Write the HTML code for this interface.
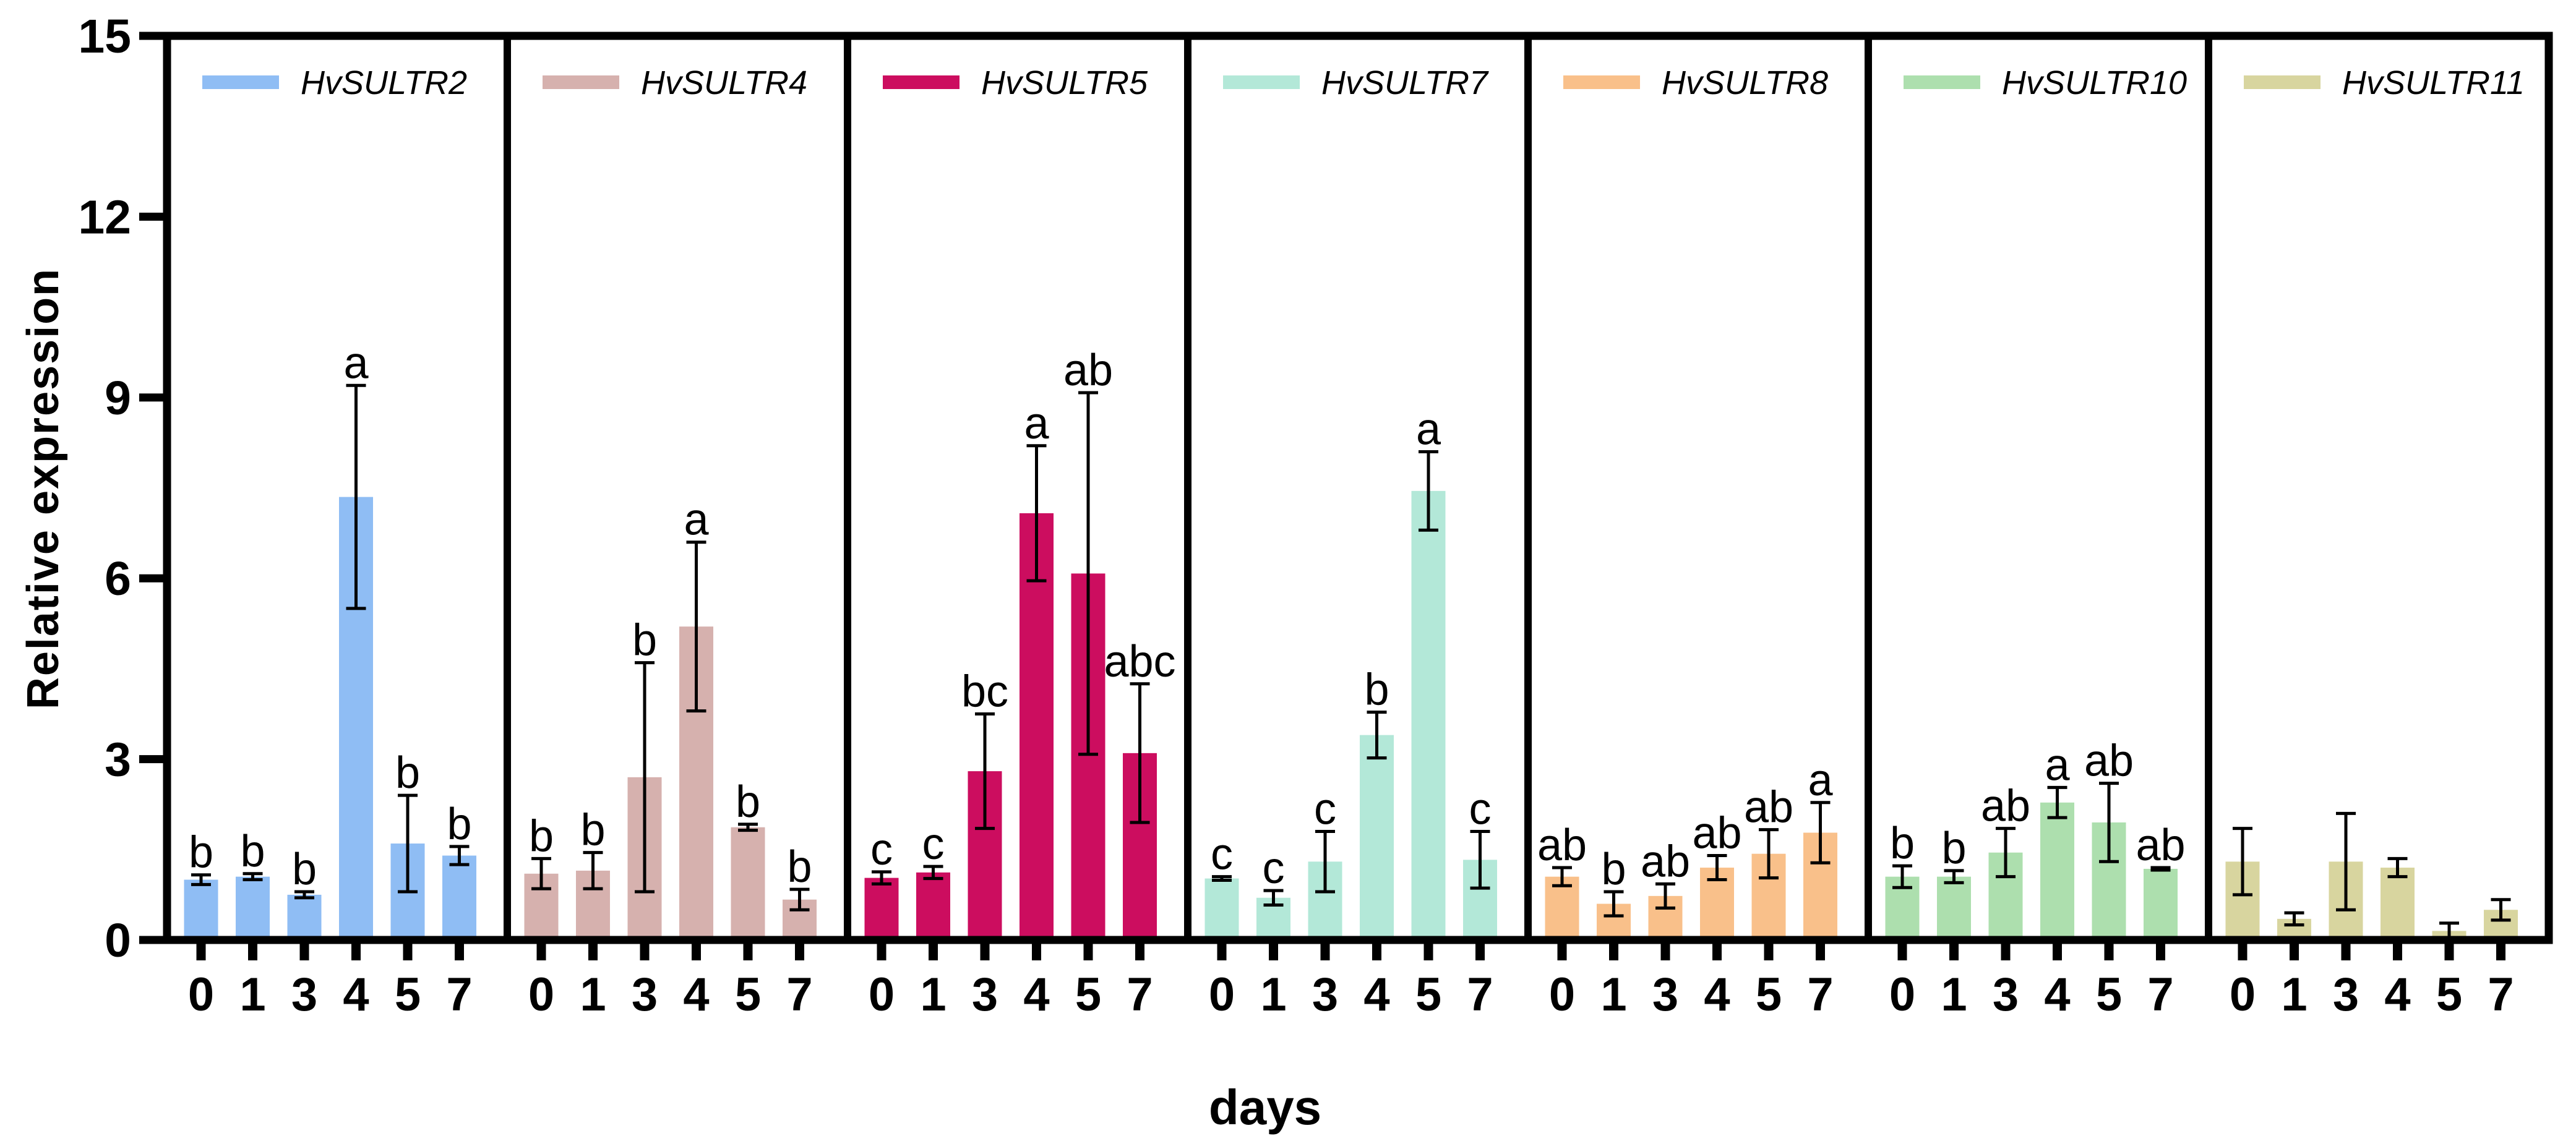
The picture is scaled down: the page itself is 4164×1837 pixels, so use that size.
<!DOCTYPE html>
<html><head><meta charset="utf-8"><style>
html,body{margin:0;padding:0;background:#fff}
svg{display:block}
text{font-family:"Liberation Sans",Arial,sans-serif}
</style></head><body>
<svg id="chart" width="4164" height="1837" viewBox="0 0 4164 1837" xmlns="http://www.w3.org/2000/svg">
<g id="marks"></g>
<g id="axes"></g>
<text x="0" y="0" transform="translate(94,790) rotate(-90)" text-anchor="middle" font-size="72" font-weight="bold" letter-spacing="2">Relative  expression</text>
<text x="2045" y="1818" text-anchor="middle" font-size="80" font-weight="bold">days</text>
</svg>
<script>
const genes = ["HvSULTR2","HvSULTR4","HvSULTR5","HvSULTR7","HvSULTR8","HvSULTR10","HvSULTR11"];
const colors = ["#8fbdf4","#d6b1ae","#cc0d5f","#b3e8d8","#f9c08a","#addfae","#d8d59f"];
const days = ["0","1","3","4","5","7"];
const v2 = [1.0,1.05,0.75,7.35,1.6,1.4];
const e2 = [0.08,0.05,0.05,1.85,0.8,0.15];
const l2 = ["b","b","b","a","b","b"];
const v4 = [1.1,1.15,2.7,5.2,1.87,0.67];
const e4 = [0.25,0.3,1.9,1.4,0.05,0.17];
const l4 = ["b","b","b","a","b","b"];
const v5 = [1.03,1.12,2.8,7.08,6.08,3.1];
const e5 = [0.1,0.1,0.95,1.12,3.0,1.15];
const l5 = ["c","c","bc","a","ab","abc"];
const v7 = [1.02,0.7,1.3,3.4,7.45,1.33];
const e7 = [0.03,0.12,0.5,0.38,0.65,0.47];
const l7 = ["c","c","c","b","a","c"];
const v8 = [1.05,0.6,0.73,1.2,1.43,1.78];
const e8 = [0.15,0.2,0.2,0.2,0.4,0.5];
const l8 = ["ab","b","ab","ab","ab","a"];
const v10 = [1.05,1.05,1.45,2.28,1.95,1.18];
const e10 = [0.18,0.1,0.4,0.25,0.65,0.02];
const l10 = ["b","b","ab","a","ab","ab"];
const v11 = [1.3,0.35,1.3,1.2,0.15,0.5];
const e11 = [0.55,0.1,0.8,0.15,0.13,0.17];
const l11 = ["","","","","",""];
const yTicks = [0,3,6,9,12,15];

const values=[v2,v4,v5,v7,v8,v10,v11], errs=[e2,e4,e5,e7,e8,e10,e11], letters=[l2,l4,l5,l7,l8,l10,l11];
const NS="http://www.w3.org/2000/svg";
const X0=270, PW=550, Y0=1520, YTOP=58, YMAX=15;
const y = v => Y0 - v/YMAX*(Y0-YTOP);
const x = (p,i) => X0 + p*PW + 55 + i*83.5;
const marks=document.getElementById('marks'), axes=document.getElementById('axes');
function mk(tag,attrs,parent){const e=document.createElementNS(NS,tag);for(const k in attrs)e.setAttribute(k,attrs[k]);parent.appendChild(e);return e;}

genes.forEach((g,p)=>{
  const grp=mk('g',{},marks);
  
  
  const ll=mk('rect',{x:X0+p*PW+57,y:122,width:124,height:22,fill:colors[p]},grp);
  
  
  const lt=mk('text',{x:X0+p*PW+216,y:152,'font-size':54,'font-style':'italic'},grp);
  lt.textContent=g;
  
  
  values[p].forEach((v,i)=>{
    const cx=x(p,i);
    const r=mk('rect',{x:cx-27.5,y:y(v),width:55,height:Y0-y(v),fill:colors[p]},grp);
    
    
    const top=y(v+errs[p][i]), bot=y(Math.max(0,v-errs[p][i]));
    const eb=mk('path',{d:`M${cx},${top}V${bot}M${cx-16},${top}H${cx+16}M${cx-16},${bot}H${cx+16}`,stroke:'#000','stroke-width':5,fill:'none'},grp);
    
    
    if(letters[p][i]){
      const t=mk('text',{x:cx,y:top-12,'text-anchor':'middle','font-size':72},grp);
      t.textContent=letters[p][i];
      
      
    }
    const tk=mk('rect',{x:cx-7.5,y:Y0,width:15,height:33,fill:'#000'},axes);
    
    
    const tl=mk('text',{x:cx,y:1634,'text-anchor':'middle','font-size':76,'font-weight':'bold'},axes);
    tl.textContent=days[i];
    
    
  });
  if(p>0){
    const d=mk('rect',{x:X0+p*PW-6,y:YTOP,width:12,height:Y0-YTOP,fill:'#000'},axes);
    
    
  }
});
const frame=mk('rect',{x:X0,y:YTOP,width:PW*7,height:Y0-YTOP,fill:'none',stroke:'#000','stroke-width':13},axes);


yTicks.forEach(t=>{
  const tk=mk('rect',{x:225,y:y(t)-6.5,width:45,height:13,fill:'#000'},axes);
  
  
  const tl=mk('text',{x:212,y:y(t)+27,'text-anchor':'end','font-size':77,'font-weight':'bold'},axes);
  tl.textContent=String(t);
  
  
});
</script>
</body></html>
